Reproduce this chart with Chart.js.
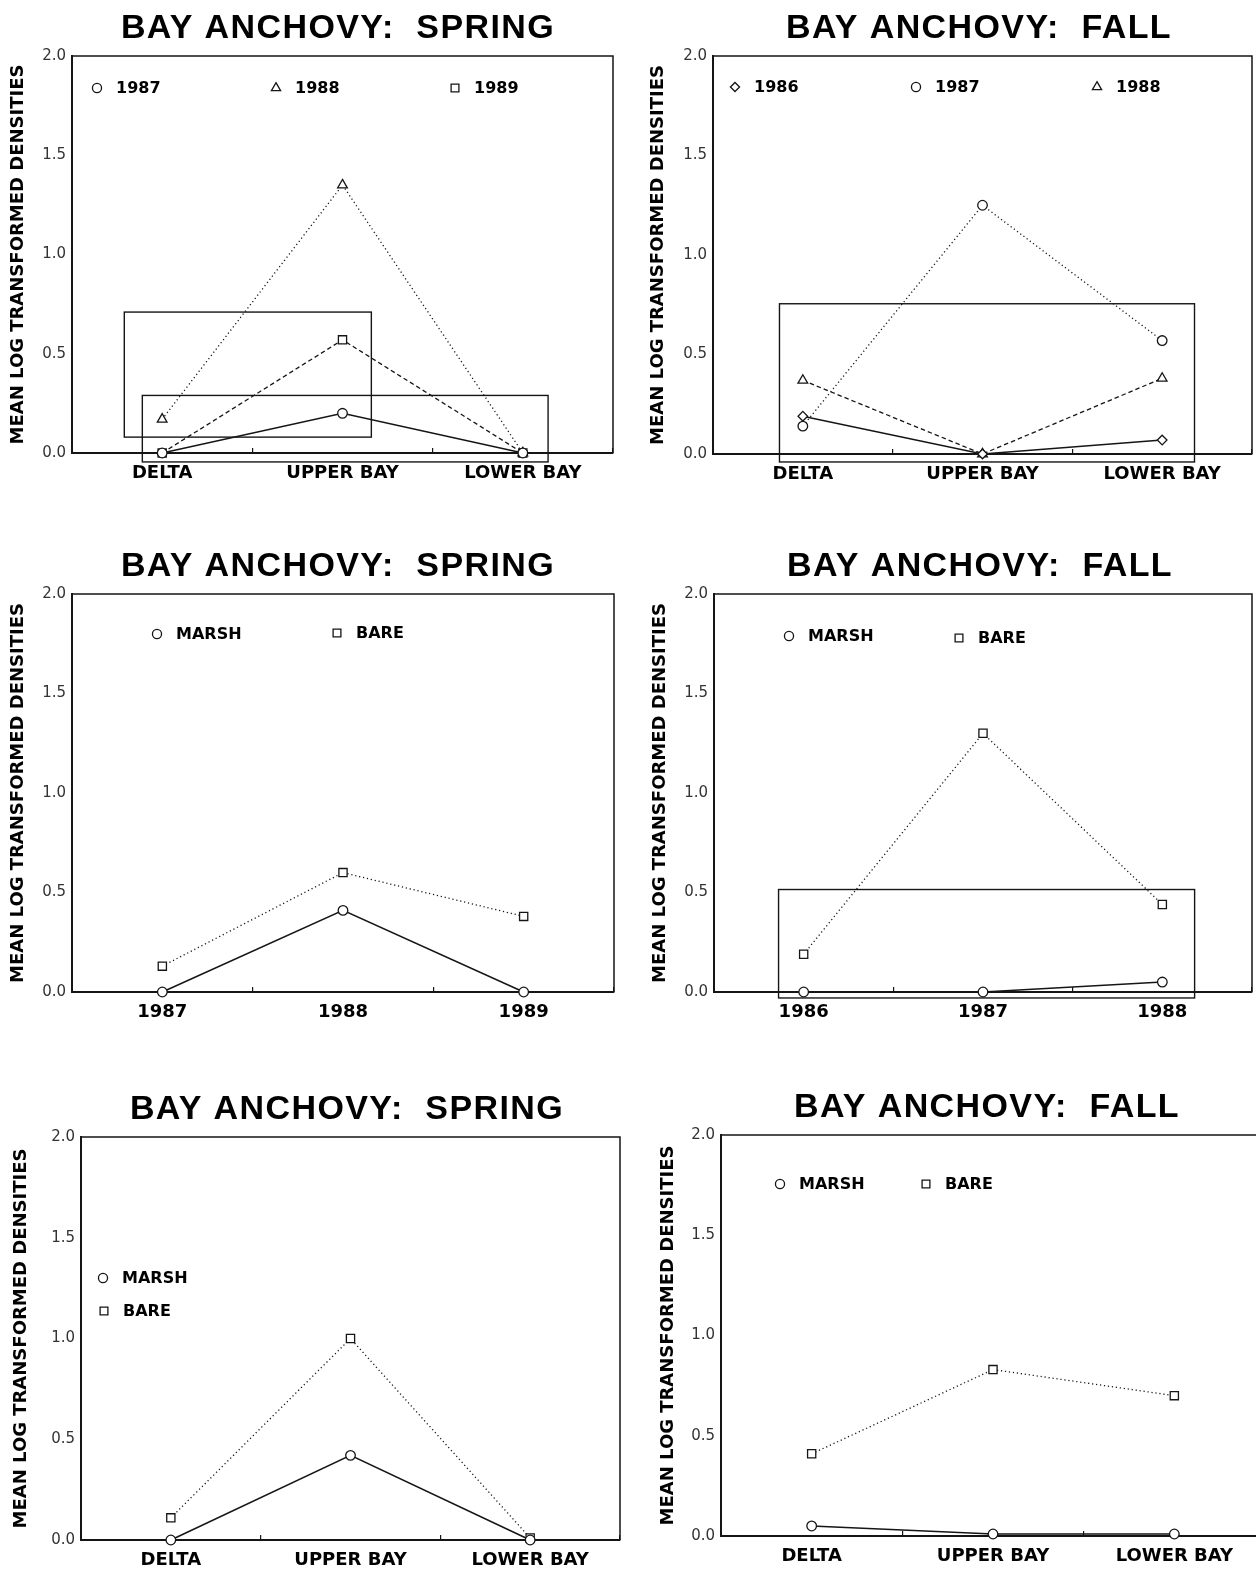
<!DOCTYPE html>
<html>
<head>
<meta charset="utf-8">
<script src="https://cdn.jsdelivr.net/npm/chart.js@4.4.1/dist/chart.umd.min.js"></script>
<style>
  html, body { margin: 0; padding: 0; background: #fff; }
  body { width: 1256px; height: 1569px; position: relative; overflow: hidden; }
  canvas { position: absolute; }
</style>
</head>
<body>
<script>
// Bay anchovy: mean log-transformed densities, spring and fall surveys.

// Category labels
const REGIONS = ['DELTA', 'UPPER BAY', 'LOWER BAY'];
const SPRING_YEARS = ['1987', '1988', '1989'];
const FALL_YEARS = ['1986', '1987', '1988'];
const Y_TICKS = [0, 0.5, 1.0, 1.5, 2.0];

// Spring, by region, one series per year
const springRegion1987 = [0.00, 0.20, 0.00];
const springRegion1988 = [0.17, 1.35, 0.00];
const springRegion1989 = [0.00, 0.57, 0.00];

// Fall, by region, one series per year
const fallRegion1986 = [0.19, 0.00, 0.07];
const fallRegion1987 = [0.14, 1.25, 0.57];
const fallRegion1988 = [0.37, 0.00, 0.38];

// Spring, by year, marsh vs bare habitat
const springYearMarsh = [0.00, 0.41, 0.00];
const springYearBare  = [0.13, 0.60, 0.38];

// Fall, by year, marsh vs bare habitat
const fallYearMarsh = [0.00, 0.00, 0.05];
const fallYearBare  = [0.19, 1.30, 0.44];

// Spring, by region, marsh vs bare habitat
const springRegionMarsh = [0.00, 0.42, 0.00];
const springRegionBare  = [0.11, 1.00, 0.01];

// Fall, by region, marsh vs bare habitat
const fallRegionMarsh = [0.05, 0.01, 0.01];
const fallRegionBare  = [0.41, 0.83, 0.70];

// Line dash patterns
const DASH = { solid: [], dotted: [1.2, 2.8], dashed: [4.5, 3] };
// Marker radius per point style
const MARK = { circle: 4.8, triangle: 5.6, rect: 5.8, rectRot: 4.8 };

// Outline frames overlaid on some panels: [x0, y0, x1, y1] in category index / value units
const springRegionFrames = [[-0.21, 0.08, 1.16, 0.71], [-0.11, -0.045, 2.14, 0.29]];
const fallRegionFrames = [[-0.13, -0.04, 2.18, 0.755]];
const fallYearFrames = [[-0.14, -0.03, 2.18, 0.515]];

const YTITLE = 'MEAN LOG TRANSFORMED DENSITIES';

const PANELS = [
  { area: [72, 56, 613, 453], yTitleX: 18, title: 'BAY ANCHOVY:  SPRING', labels: REGIONS,
    series: [
      { label: '1987', data: springRegion1987, style: 'circle', dash: 'solid' },
      { label: '1988', data: springRegion1988, style: 'triangle', dash: 'dotted' },
      { label: '1989', data: springRegion1989, style: 'rect', dash: 'dashed' }
    ],
    frames: springRegionFrames, legend: [[25, 32], [204, 32], [383, 32]] },
  { area: [713, 56, 1252, 454], yTitleX: 658, title: 'BAY ANCHOVY:  FALL', labels: REGIONS,
    series: [
      { label: '1986', data: fallRegion1986, style: 'rectRot', dash: 'solid' },
      { label: '1987', data: fallRegion1987, style: 'circle', dash: 'dotted' },
      { label: '1988', data: fallRegion1988, style: 'triangle', dash: 'dashed' }
    ],
    frames: fallRegionFrames, legend: [[22, 31], [203, 31], [384, 31]] },
  { area: [72, 594, 614, 992], yTitleX: 18, title: 'BAY ANCHOVY:  SPRING', labels: SPRING_YEARS,
    series: [
      { label: 'MARSH', data: springYearMarsh, style: 'circle', dash: 'solid' },
      { label: 'BARE', data: springYearBare, style: 'rect', dash: 'dotted' }
    ],
    frames: [], legend: [[85, 40], [265, 39]] },
  { area: [714, 594, 1252, 992], yTitleX: 660, title: 'BAY ANCHOVY:  FALL', labels: FALL_YEARS,
    series: [
      { label: 'MARSH', data: fallYearMarsh, style: 'circle', dash: 'solid' },
      { label: 'BARE', data: fallYearBare, style: 'rect', dash: 'dotted' }
    ],
    frames: fallYearFrames, legend: [[75, 42], [245, 44]] },
  { area: [81, 1137, 620, 1540], yTitleX: 21, title: 'BAY ANCHOVY:  SPRING', labels: REGIONS,
    series: [
      { label: 'MARSH', data: springRegionMarsh, style: 'circle', dash: 'solid' },
      { label: 'BARE', data: springRegionBare, style: 'rect', dash: 'dotted' }
    ],
    frames: [], legend: [[22, 141], [23, 174]] },
  { area: [721, 1135, 1265, 1536], yTitleX: 668, title: 'BAY ANCHOVY:  FALL', labels: REGIONS,
    series: [
      { label: 'MARSH', data: fallRegionMarsh, style: 'circle', dash: 'solid' },
      { label: 'BARE', data: fallRegionBare, style: 'rect', dash: 'dotted' }
    ],
    frames: [], legend: [[59, 49], [205, 49]] }
];

const INK = '#151515';
const Y_BOX = 80, TOP_BOX = 60, X_BOX = 40, RIGHT_PAD = 10;

function drawMarker(ctx, style, r, x, y) {
  if (Chart.helpers && Chart.helpers.drawPoint) {
    Chart.helpers.drawPoint(ctx, { pointStyle: style, radius: r, borderWidth: 1.3, rotation: 0 }, x, y);
    return;
  }
  ctx.beginPath();
  ctx.arc(x, y, r, 0, Math.PI * 2);
  ctx.fill(); ctx.stroke();
}

// Title, outer frame edges, overlay frames and in-plot key
const panelDecor = {
  id: 'panelDecor',
  afterDraw(chart, args, opts) {
    const { ctx, chartArea: a } = chart;
    const xs = chart.scales.x, ys = chart.scales.y;
    ctx.save();

    ctx.fillStyle = '#000';
    ctx.font = 'bold 34px "Liberation Sans", Arial, sans-serif';
    ctx.letterSpacing = '1.4px';
    ctx.textAlign = 'center';
    ctx.textBaseline = 'alphabetic';
    ctx.fillText(opts.title, a.left + 266, a.top - 18);
    ctx.letterSpacing = '0px';

    ctx.strokeStyle = INK;
    ctx.lineWidth = 1.5;
    ctx.beginPath();
    ctx.moveTo(a.left, a.top);
    ctx.lineTo(a.right, a.top);
    ctx.lineTo(a.right, a.bottom);
    ctx.stroke();

    ctx.lineWidth = 1.4;
    opts.frames.forEach(([x0, y0, x1, y1]) => {
      const px0 = xs.getPixelForValue(x0), px1 = xs.getPixelForValue(x1);
      const py0 = ys.getPixelForValue(y0), py1 = ys.getPixelForValue(y1);
      ctx.strokeRect(px0, py1, px1 - px0, py0 - py1);
    });

    opts.legend.forEach(([dx, dy], i) => {
      const ds = chart.data.datasets[i];
      const sx = a.left + dx, sy = a.top + dy;
      ctx.fillStyle = '#fff';
      ctx.strokeStyle = INK;
      ctx.lineWidth = 1.3;
      drawMarker(ctx, ds.pointStyle, ds.pointRadius * 0.95, sx, sy);
      ctx.fillStyle = '#000';
      ctx.font = 'bold 16px "DejaVu Sans", sans-serif';
      ctx.textAlign = 'left';
      ctx.textBaseline = 'middle';
      ctx.fillText(ds.label, sx + 19, sy + 1);
    });
    ctx.restore();
  }
};

PANELS.forEach((p) => {
  const [l, t, r, b] = p.area;
  const cx = l - Y_BOX, cy = t - TOP_BOX;
  const cw = (r + RIGHT_PAD) - cx, ch = (b + X_BOX) - cy;
  const canvas = document.createElement('canvas');
  canvas.width = cw; canvas.height = ch;
  canvas.style.left = cx + 'px'; canvas.style.top = cy + 'px';
  canvas.style.width = cw + 'px'; canvas.style.height = ch + 'px';
  document.body.appendChild(canvas);

  const titlePad = p.yTitleX - cx - 10.8;

  new Chart(canvas.getContext('2d'), {
    type: 'line',
    data: {
      labels: p.labels,
      datasets: p.series.map((s) => ({
        label: s.label,
        data: s.data,
        borderColor: INK,
        borderWidth: s.dash === 'solid' ? 1.5 : 1.3,
        borderDash: DASH[s.dash],
        pointStyle: s.style,
        pointRadius: MARK[s.style],
        pointBackgroundColor: '#fff',
        pointBorderColor: INK,
        pointBorderWidth: 1.3,
        tension: 0,
        fill: false,
        clip: false
      }))
    },
    options: {
      responsive: false,
      animation: false,
      devicePixelRatio: 1,
      layout: { padding: { left: 0, top: TOP_BOX, right: RIGHT_PAD, bottom: 0 } },
      plugins: {
        legend: { display: false },
        tooltip: { enabled: false },
        panelDecor: { title: p.title, frames: p.frames, legend: p.legend }
      },
      scales: {
        x: {
          type: 'category',
          offset: true,
          grid: { offset: true, drawOnChartArea: false, drawTicks: true, tickLength: -5, color: INK, lineWidth: 1.2 },
          border: { display: true, color: INK, width: 2 },
          ticks: {
            color: '#000', padding: 15, maxRotation: 0, autoSkip: false,
            font: { family: 'DejaVu Sans', weight: 'bold', size: 18 }
          },
          afterFit(s) { s.height = X_BOX; }
        },
        y: {
          min: 0, max: 2,
          afterBuildTicks(s) { s.ticks = Y_TICKS.map((v) => ({ value: v })); },
          grid: { display: false, drawTicks: false },
          border: { display: true, color: INK, width: 2 },
          ticks: {
            color: '#333', padding: 6,
            font: { family: 'DejaVu Sans', size: 15 },
            callback: (v) => Number(v).toFixed(1)
          },
          title: {
            display: true, text: YTITLE, color: '#000',
            font: { family: 'DejaVu Sans', weight: 'bold', size: 18, lineHeight: 1.2 },
            padding: { top: titlePad, bottom: 0 }
          },
          afterFit(s) { s.width = Y_BOX; }
        }
      }
    },
    plugins: [panelDecor]
  });
});
</script>
</body>
</html>
